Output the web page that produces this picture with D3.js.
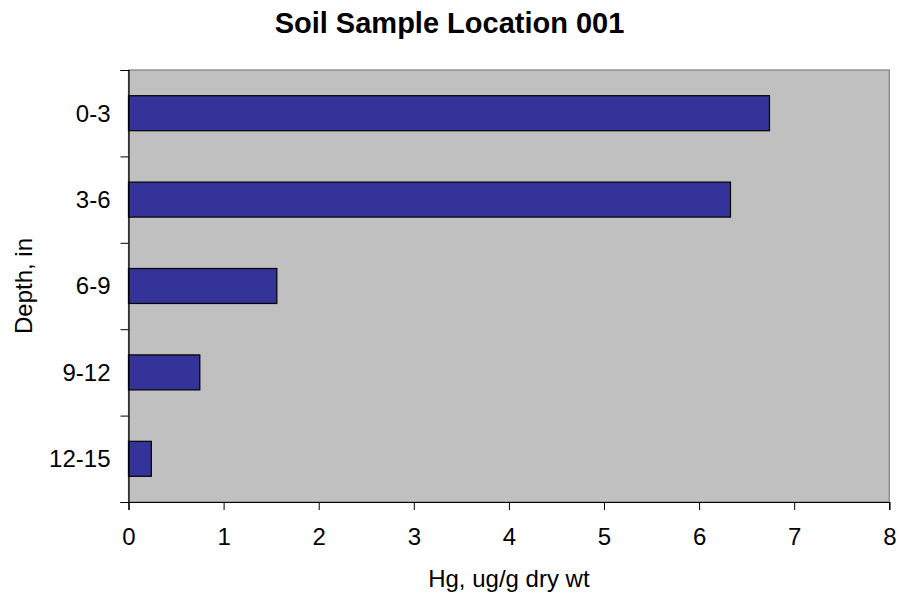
<!DOCTYPE html>
<html>
<head>
<meta charset="utf-8">
<script src="https://cdn.jsdelivr.net/npm/d3@7"></script>
<style>
  body { margin: 0; background: #fff; }
  text { font-family: Arial, "Liberation Sans", sans-serif; fill: #000; }
</style>
</head>
<body>
<div id="chart"></div>
<script>
// chart data
var depths = ["0-3", "3-6", "6-9", "9-12", "12-15"];
var hgValues = [6.74, 6.33, 1.56, 0.75, 0.24];
var xTicks = [0, 1, 2, 3, 4, 5, 6, 7, 8];

var width = 899, height = 595;
var margin = {top: 70, right: 10, bottom: 93, left: 128.5};
var plotW = 889.3 - margin.left, plotH = 502 - margin.top;

var svg = d3.select("#chart").append("svg")
    .attr("width", width).attr("height", height);

var g = svg.append("g")
    .attr("transform", "translate(" + margin.left + "," + margin.top + ")");

var x = d3.scaleLinear().domain([0, 8]).range([0, plotW]);
var y = d3.scaleBand().domain(depths).range([0, plotH]).paddingInner(0.595).paddingOuter(0.2975);
var yEdges = d3.scaleLinear().domain([0, depths.length]).range([0, plotH]);

// plot background
g.append("rect")
    .attr("width", plotW).attr("height", plotH)
    .attr("fill", "#c0c0c0")
    .attr("stroke", "#808080")
    .attr("stroke-width", 1.2);

// bars
g.selectAll(".bar").data(depths).enter().append("rect")
    .attr("class", "bar")
    .attr("x", x(0))
    .attr("y", function(d){ return y(d); })
    .attr("width", function(d, i){ return x(hgValues[i]) - x(0); })
    .attr("height", y.bandwidth())
    .attr("fill", "#333399")
    .attr("stroke", "#000")
    .attr("stroke-width", 1.2);

// x axis
var xAxis = g.append("g")
    .attr("transform", "translate(0," + plotH + ")")
    .call(d3.axisBottom(x).tickValues(xTicks).tickSize(8).tickPadding(18).tickFormat(d3.format("d")));
xAxis.select(".domain").attr("stroke", "#000").attr("stroke-width", 1.2);
xAxis.selectAll("text").style("font-size", "24px").attr("fill", "#000");

// y axis - ticks at category boundaries
var yAxis = g.append("g")
    .call(d3.axisLeft(yEdges).tickValues(d3.range(depths.length + 1)).tickSize(8).tickFormat(""));
yAxis.select(".domain").attr("stroke", "#000").attr("stroke-width", 1.2);

g.selectAll(".ylab").data(depths).enter().append("text")
    .attr("class", "ylab")
    .attr("x", -18)
    .attr("y", function(d){ return y(d) + y.bandwidth() / 2; })
    .attr("dy", "0.35em")
    .attr("text-anchor", "end")
    .style("font-size", "24px")
    .text(function(d){ return d; });

// titles
svg.append("text")
    .attr("x", width / 2).attr("y", 33)
    .attr("text-anchor", "middle")
    .style("font-size", "29px").style("font-weight", "bold")
    .text("Soil Sample Location 001");

svg.append("text")
    .attr("x", margin.left + plotW / 2).attr("y", 587)
    .attr("text-anchor", "middle")
    .style("font-size", "24px")
    .text("Hg, ug/g dry wt");

svg.append("text")
    .attr("transform", "translate(32," + (margin.top + plotH / 2) + ") rotate(-90)")
    .attr("text-anchor", "middle")
    .style("font-size", "24px")
    .text("Depth, in");
</script>
</body>
</html>
